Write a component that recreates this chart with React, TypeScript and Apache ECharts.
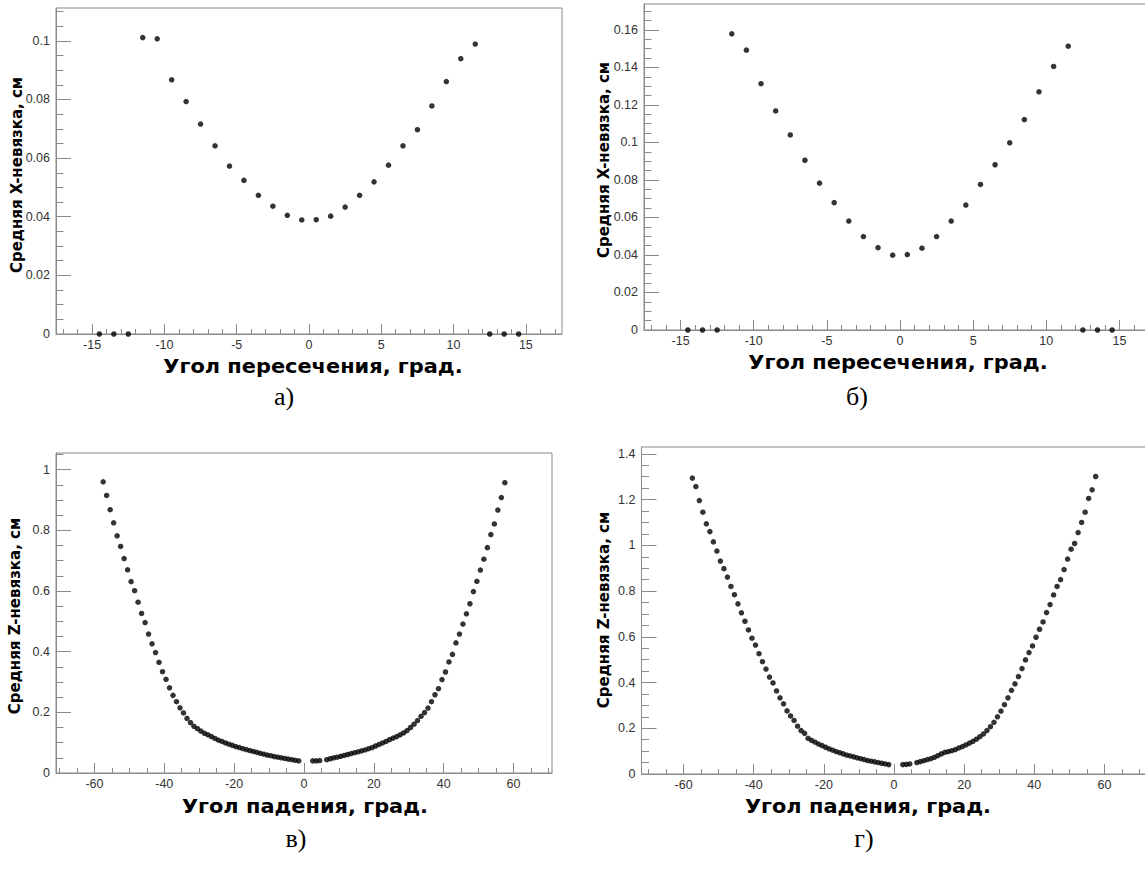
import React, { useEffect, useRef } from "react";
import * as echarts from "echarts";

// Bin centres (degrees) for the crossing-angle histograms
const crossAngles = [
  -14.5, -13.5, -12.5, -11.5, -10.5, -9.5, -8.5, -7.5, -6.5, -5.5, -4.5, -3.5, -2.5, -1.5, -0.5,
  0.5, 1.5, 2.5, 3.5, 4.5, 5.5, 6.5, 7.5, 8.5, 9.5, 10.5, 11.5, 12.5, 13.5, 14.5,
];

// а) mean X residual, cm
const residXa = [
  0, 0, 0, 0.1011, 0.1007, 0.0867, 0.0793, 0.0716, 0.0642, 0.0573, 0.0524, 0.0473, 0.0436, 0.0405, 0.0389,
  0.039, 0.0402, 0.0433, 0.0473, 0.0519, 0.0576, 0.0642, 0.0697, 0.0778, 0.0861, 0.0939, 0.0989, 0, 0, 0,
];

// б) mean X residual, cm
const residXb = [
  0, 0, 0, 0.1579, 0.1492, 0.1313, 0.1168, 0.104, 0.0905, 0.0783, 0.0679, 0.0581, 0.0498, 0.0439, 0.0399,
  0.0402, 0.0436, 0.0498, 0.0581, 0.0666, 0.0776, 0.0881, 0.0998, 0.1122, 0.127, 0.1405, 0.1513, 0, 0, 0,
];

// Bin centres (degrees) for the dip-angle histograms
const dipAngles = [
  -57.5, -56.5, -55.5, -54.5, -53.5, -52.5, -51.5, -50.5, -49.5, -48.5, -47.5, -46.5, -45.5, -44.5, -43.5,
  -42.5, -41.5, -40.5, -39.5, -38.5, -37.5, -36.5, -35.5, -34.5, -33.5, -32.5, -31.5, -30.5, -29.5, -28.5,
  -27.5, -26.5, -25.5, -24.5, -23.5, -22.5, -21.5, -20.5, -19.5, -18.5, -17.5, -16.5, -15.5, -14.5, -13.5,
  -12.5, -11.5, -10.5, -9.5, -8.5, -7.5, -6.5, -5.5, -4.5, -3.5, -2.5, -1.5,
  2.5, 3.5, 4.5, 6.5, 7.5, 8.5, 9.5, 10.5, 11.5, 12.5, 13.5, 14.5, 15.5, 16.5, 17.5, 18.5, 19.5, 20.5,
  21.5, 22.5, 23.5, 24.5, 25.5, 26.5, 27.5, 28.5, 29.5, 30.5, 31.5, 32.5, 33.5, 34.5, 35.5, 36.5, 37.5,
  38.5, 39.5, 40.5, 41.5, 42.5, 43.5, 44.5, 45.5, 46.5, 47.5, 48.5, 49.5, 50.5, 51.5, 52.5, 53.5, 54.5,
  55.5, 56.5, 57.5,
];

// в) mean Z residual, cm
const residZc = [
  0.96, 0.915, 0.868, 0.825, 0.782, 0.747, 0.707, 0.67, 0.631, 0.601, 0.563, 0.526, 0.496, 0.458, 0.426,
  0.397, 0.365, 0.334, 0.309, 0.281, 0.256, 0.235, 0.215, 0.198, 0.18, 0.166, 0.154, 0.146, 0.138, 0.131,
  0.126, 0.12, 0.114, 0.108, 0.104, 0.099, 0.095, 0.091, 0.087, 0.084, 0.08, 0.077, 0.074, 0.071, 0.068,
  0.065, 0.062, 0.059, 0.057, 0.054, 0.052, 0.05, 0.048, 0.046, 0.044, 0.042, 0.04,
  0.04, 0.04, 0.041, 0.044, 0.047, 0.05, 0.052, 0.055, 0.058, 0.061, 0.064, 0.067, 0.07, 0.073, 0.076,
  0.08, 0.084, 0.089, 0.094, 0.099, 0.104, 0.11, 0.115, 0.12, 0.126, 0.132, 0.14, 0.15, 0.161, 0.173,
  0.187, 0.199, 0.214, 0.235, 0.258, 0.278, 0.308, 0.333, 0.366, 0.391, 0.429, 0.458, 0.491, 0.525, 0.558,
  0.598, 0.632, 0.669, 0.705, 0.743, 0.786, 0.821, 0.867, 0.908, 0.957,
];

// г) mean Z residual, cm
const residZd = [
  1.294, 1.257, 1.196, 1.145, 1.094, 1.06, 1.015, 0.975, 0.931, 0.898, 0.861, 0.82, 0.784, 0.744, 0.705,
  0.668, 0.63, 0.594, 0.564, 0.526, 0.491, 0.459, 0.424, 0.398, 0.363, 0.333, 0.307, 0.276, 0.254, 0.234,
  0.209, 0.19, 0.178, 0.156, 0.147, 0.139, 0.131, 0.124, 0.117, 0.11, 0.104, 0.098, 0.093, 0.088, 0.083,
  0.079, 0.075, 0.071, 0.067, 0.063, 0.059, 0.056, 0.053, 0.05, 0.047, 0.044, 0.041,
  0.041, 0.042, 0.044, 0.05, 0.054, 0.058, 0.063, 0.067, 0.073, 0.08, 0.088, 0.095, 0.098, 0.102, 0.107,
  0.114, 0.12, 0.127, 0.135, 0.143, 0.152, 0.163, 0.175, 0.19, 0.207, 0.226, 0.25, 0.275, 0.303, 0.333,
  0.366, 0.394, 0.426, 0.461, 0.499, 0.531, 0.56, 0.598, 0.633, 0.665, 0.706, 0.741, 0.783, 0.82, 0.85,
  0.894, 0.94, 0.983, 1.008, 1.056, 1.1, 1.145, 1.205, 1.243, 1.301,
];

// Tick labels
const crossAngleLabels = [-15, -10, -5, 0, 5, 10, 15];
const dipAngleLabels = [-60, -40, -20, 0, 20, 40, 60];
const residXaLabels = [0, 0.02, 0.04, 0.06, 0.08, 0.1];
const residXbLabels = [0, 0.02, 0.04, 0.06, 0.08, 0.1, 0.12, 0.14, 0.16];
const residZcLabels = [0, 0.2, 0.4, 0.6, 0.8, 1];
const residZdLabels = [0, 0.2, 0.4, 0.6, 0.8, 1, 1.2, 1.4];

const axisGrey = "#8a8a8a";
const labelColor = "#333";

const steps = (from: number, to: number, step: number): number[] => {
  const out: number[] = [];
  const n = Math.round((to - from) / step);
  for (let i = 0; i <= n; i++) out.push(+(from + i * step).toFixed(4));
  return out;
};

const fmt = (v: number) => String(parseFloat(Number(v).toFixed(4)));

type Panel = {
  grid: { left: number; top: number; width: number; height: number };
  xMin: number;
  xMax: number;
  yMax: number;
  xLabels: number[];
  xMinor: number[];
  yLabels: number[];
  yMinor: number[];
  xs: number[];
  ys: number[];
};

const panels: Panel[] = [
  {
    grid: { left: 56, top: 8, width: 506, height: 326 },
    xMin: -17.5, xMax: 17.5, yMax: 0.1112,
    xLabels: crossAngleLabels, xMinor: steps(-17, 17, 1),
    yLabels: residXaLabels, yMinor: steps(0, 0.11, 0.005),
    xs: crossAngles, ys: residXa,
  },
  {
    grid: { left: 644, top: 4, width: 512, height: 326 },
    xMin: -17.5, xMax: 17.5, yMax: 0.1738,
    xLabels: crossAngleLabels, xMinor: steps(-17, 17, 1),
    yLabels: residXbLabels, yMinor: steps(0, 0.17, 0.005),
    xs: crossAngles, ys: residXb,
  },
  {
    grid: { left: 56, top: 453, width: 496, height: 320 },
    xMin: -71, xMax: 71, yMax: 1.055,
    xLabels: dipAngleLabels, xMinor: steps(-70, 70, 5),
    yLabels: residZcLabels, yMinor: steps(0, 1.05, 0.05),
    xs: dipAngles, ys: residZc,
  },
  {
    grid: { left: 641.5, top: 447, width: 505, height: 327 },
    xMin: -72, xMax: 72, yMax: 1.43,
    xLabels: dipAngleLabels, xMinor: steps(-70, 70, 5),
    yLabels: residZdLabels, yMinor: steps(0, 1.4, 0.05),
    xs: dipAngles, ys: residZd,
  },
];

const titleFont = { fontFamily: "DejaVu Sans", fontWeight: "bold" as const, fill: "#000" };

const xTitle = (text: string, x: number, y: number) => ({
  type: "text", x, y, scaleX: 1.1,
  style: { ...titleFont, text, fontSize: 19, align: "center", verticalAlign: "middle" },
});
const yTitle = (text: string, x: number, y: number) => ({
  type: "text", x, y, rotation: Math.PI / 2,
  style: { ...titleFont, text, fontSize: 15, align: "center", verticalAlign: "middle" },
});
const caption = (text: string, x: number, y: number) => ({
  type: "text", x, y,
  style: { text, fontFamily: "Liberation Serif", fontSize: 26, fill: "#000", align: "center", verticalAlign: "middle" },
});

function buildOption() {
  const grid: any[] = [];
  const xAxis: any[] = [];
  const yAxis: any[] = [];
  const series: any[] = [];

  panels.forEach((p, i) => {
    grid.push({ ...p.grid, show: true, borderColor: axisGrey, borderWidth: 1, backgroundColor: "#fff" });
    const xMajor = p.xLabels;
    const yMajor = p.yLabels;
    // main axes: minor ticks, labels
    xAxis.push({
      gridIndex: i, type: "value", position: "bottom", min: p.xMin, max: p.xMax,
      axisLine: { show: true, onZero: false, lineStyle: { color: axisGrey, width: 1 } },
      axisTick: { show: true, inside: true, length: 5, customValues: p.xMinor, lineStyle: { color: axisGrey } },
      axisLabel: {
        customValues: xMajor, formatter: fmt, color: labelColor, fontFamily: "Liberation Sans",
        fontSize: 12.5, margin: 4,
      },
      splitLine: { show: false },
    });
    // overlaid axis carrying the long major ticks
    xAxis.push({
      gridIndex: i, type: "value", position: "bottom", offset: 0, min: p.xMin, max: p.xMax,
      axisLine: { show: false, onZero: false },
      axisTick: { show: true, inside: true, length: 10, customValues: xMajor, lineStyle: { color: axisGrey } },
      axisLabel: { show: false },
      splitLine: { show: false },
    });
    yAxis.push({
      gridIndex: i, type: "value", position: "left", min: 0, max: p.yMax,
      axisLine: { show: true, onZero: false, lineStyle: { color: axisGrey, width: 1 } },
      axisTick: { show: true, inside: true, length: 7.5, customValues: p.yMinor, lineStyle: { color: axisGrey } },
      axisLabel: {
        customValues: yMajor, formatter: fmt, color: labelColor, fontFamily: "Liberation Sans",
        fontSize: 12.5, margin: 6,
      },
      splitLine: { show: false },
    });
    yAxis.push({
      gridIndex: i, type: "value", position: "left", offset: 0, min: 0, max: p.yMax,
      axisLine: { show: false, onZero: false },
      axisTick: { show: true, inside: true, length: 15, customValues: yMajor, lineStyle: { color: axisGrey } },
      axisLabel: { show: false },
      splitLine: { show: false },
    });
    series.push({
      type: "scatter",
      xAxisIndex: 2 * i,
      yAxisIndex: 2 * i,
      symbol: "circle",
      symbolSize: 5.5,
      itemStyle: { color: "#000" },
      data: p.xs.map((x, k) => [x, p.ys[k]]),
      z: 5,
    });
  });

  return {
    animation: false,
    backgroundColor: "#fff",
    grid,
    xAxis,
    yAxis,
    series,
    graphic: [
      xTitle("Угол пересечения, град.", 313, 366),
      xTitle("Угол пересечения, град.", 898, 362),
      xTitle("Угол падения, град.", 305, 806),
      xTitle("Угол падения, град.", 868, 806),
      yTitle("Средняя X-невязка, см", 17, 175),
      yTitle("Средняя X-невязка, см", 604, 160),
      yTitle("Средняя Z-невязка, см", 15, 616),
      yTitle("Средняя Z-невязка, см", 604, 610),
      caption("а)", 284, 396),
      caption("б)", 857, 396),
      caption("в)", 296, 838),
      caption("г)", 864, 838),
    ],
  };
}

export default function App() {
  const ref = useRef<HTMLDivElement>(null);
  useEffect(() => {
    if (!ref.current) return;
    const chart = echarts.init(ref.current, undefined, { renderer: "svg" });
    chart.setOption(buildOption() as any);
    return () => chart.dispose();
  }, []);
  // the canvas is wider than the window so the right-hand frames run past its edge
  return (
    <div
      ref={ref}
      style={{ position: "fixed", left: 0, top: 0, width: 1170, height: 873, background: "#fff" }}
    />
  );
}
